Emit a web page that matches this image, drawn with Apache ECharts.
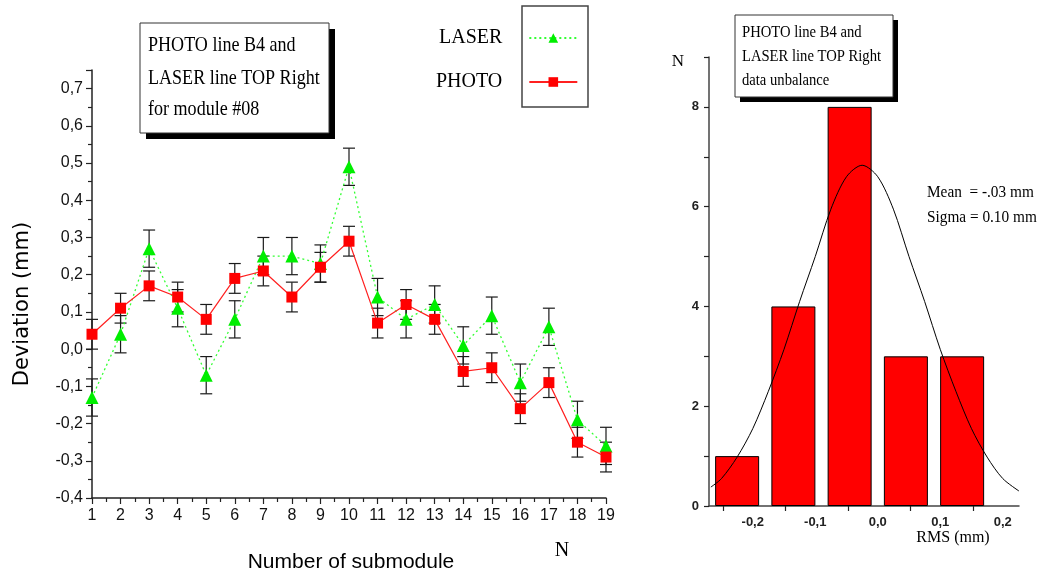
<!DOCTYPE html>
<html>
<head>
<meta charset="utf-8">
<script src="https://cdn.jsdelivr.net/npm/echarts@6/dist/echarts.min.js"></script>
<style>
html, body { margin: 0; padding: 0; background: #fff; }
#myChart { width: 1042px; height: 576px; }
</style>
</head>
<body>
<div id="myChart"></div>
<script>
// left plot: deviation per submodule
var submodules = [1, 2, 3, 4, 5, 6, 7, 8, 9, 10, 11, 12, 13, 14, 15, 16, 17, 18, 19];
var laser = [-0.13, 0.04, 0.27, 0.11, -0.07, 0.08, 0.25, 0.25, 0.23, 0.49, 0.14, 0.08, 0.12, 0.01, 0.09, -0.09, 0.06, -0.19, -0.26];
var laserErr = [0.05, 0.05, 0.05, 0.05, 0.05, 0.05, 0.05, 0.05, 0.05, 0.05, 0.05, 0.05, 0.05, 0.05, 0.05, 0.05, 0.05, 0.05, 0.05];
var photo = [0.04, 0.11, 0.17, 0.14, 0.08, 0.19, 0.21, 0.14, 0.22, 0.29, 0.07, 0.12, 0.08, -0.06, -0.05, -0.16, -0.09, -0.25, -0.29];
var photoErr = [0.04, 0.04, 0.04, 0.04, 0.04, 0.04, 0.04, 0.04, 0.04, 0.04, 0.04, 0.04, 0.04, 0.04, 0.04, 0.04, 0.04, 0.04, 0.04];

// right plot: histogram of the unbalance + fitted gauss (curve)
var binCenters = [-0.225, -0.135, -0.045, 0.045, 0.135];
var binCounts = [1, 4, 8, 3, 3];
var fitX = [-0.267, -0.25, -0.225, -0.2, -0.175, -0.15, -0.125, -0.1, -0.075, -0.05, -0.025, 0.0, 0.025, 0.05, 0.075, 0.1, 0.125, 0.15, 0.175, 0.2, 0.226];
var fitY = [0.38, 0.55, 0.98, 1.55, 2.3, 3.14, 4.1, 5.0, 5.95, 6.6, 6.83, 6.6, 5.95, 5.0, 4.1, 3.14, 2.3, 1.55, 0.98, 0.55, 0.3];
var rmsTicks = [-0.2, -0.1, 0.0, 0.1, 0.2];

function comma(v) {
    return v.toFixed(1).replace('.', ',');
}

function errData(vals, errs) {
    var out = [];
    for (var i = 0; i < vals.length; i++) {
        out.push([submodules[i], vals[i] - errs[i], vals[i] + errs[i]]);
    }
    return out;
}

function renderErr(params, api) {
    var lo = api.coord([api.value(0), api.value(1)]);
    var hi = api.coord([api.value(0), api.value(2)]);
    var style = { stroke: '#1a1a1a', lineWidth: 1.2 };
    return {
        type: 'group',
        children: [
            { type: 'line', shape: { x1: lo[0], y1: lo[1], x2: hi[0], y2: hi[1] }, style: style },
            { type: 'line', shape: { x1: lo[0] - 6, y1: lo[1], x2: lo[0] + 6, y2: lo[1] }, style: style },
            { type: 'line', shape: { x1: hi[0] - 6, y1: hi[1], x2: hi[0] + 6, y2: hi[1] }, style: style }
        ]
    };
}

var lineData = function (vals) {
    return vals.map(function (v, i) { return [submodules[i], v]; });
};

var binData = binCenters.map(function (c, i) { return [c, binCounts[i]]; });
var fitData = fitX.map(function (x, i) { return [x, fitY[i]]; });
// the original plot draws its x ticks ~0.048 left of their labels
var rmsTickMarks = rmsTicks.map(function (v) { return v - 0.048; });

var serif = 'Liberation Serif, Times New Roman, serif';
var sans = 'Liberation Sans, Arial, sans-serif';

// serif text in the original is narrow, squeeze it a bit
function note(x, y, text, size, sx) {
    return {
        type: 'text', x: x, y: y, scaleX: sx,
        style: { x: 0, y: 0, text: text, font: size + 'px ' + serif, fill: '#000', verticalAlign: 'middle' }
    };
}

var myChart = echarts.init(document.getElementById("myChart"));
var option = {
    animation: false,
    backgroundColor: '#fff',
    grid: [
        { left: 92, right: 436, top: 70, bottom: 78 },
        { left: 709, right: 23, top: 57, bottom: 70 }
    ],
    legend: {
        left: 431,
        top: 23,
        orient: 'vertical',
        align: 'right',
        itemWidth: 48,
        itemHeight: 12,
        itemGap: 24,
        textStyle: { fontFamily: serif, fontSize: 20, color: '#000', padding: [0, 22, 0, 0] },
        data: ['LASER', 'PHOTO']
    },
    xAxis: [
        {
            gridIndex: 0,
            type: 'value',
            min: 1,
            max: 19,
            interval: 1,
            splitLine: { show: false },
            axisLine: { onZero: false, lineStyle: { color: '#222', width: 1.5 } },
            axisTick: { length: 6, lineStyle: { color: '#222', width: 1.2 } },
            minorTick: { show: true, splitNumber: 2, length: 4, lineStyle: { color: '#222', width: 1.2 } },
            axisLabel: { fontFamily: sans, fontSize: 16, color: '#111', margin: 10 }
        },
        {
            gridIndex: 1,
            type: 'value',
            min: -0.27,
            max: 0.226,
            splitLine: { show: false },
            axisLine: { onZero: false, lineStyle: { color: '#444', width: 1.5 } },
            axisTick: { customValues: rmsTickMarks, length: 5, lineStyle: { color: '#222', width: 1.2 } },
            axisLabel: {
                customValues: rmsTicks,
                formatter: comma,
                fontFamily: sans, fontSize: 13, fontWeight: 'bold', color: '#222', margin: 10
            }
        }
    ],
    yAxis: [
        {
            gridIndex: 0,
            type: 'value',
            min: -0.4,
            max: 0.75,
            interval: 0.1,
            splitLine: { show: false },
            axisLine: { show: true, onZero: false, lineStyle: { color: '#222', width: 1.5 } },
            axisTick: { show: true, length: 6, lineStyle: { color: '#222', width: 1.2 } },
            minorTick: { show: true, splitNumber: 2, length: 4, lineStyle: { color: '#222', width: 1.2 } },
            axisLabel: { showMaxLabel: false, formatter: comma, fontFamily: sans, fontSize: 16, color: '#111', margin: 9 }
        },
        {
            gridIndex: 1,
            type: 'value',
            min: 0,
            max: 9,
            interval: 2,
            splitLine: { show: false },
            axisLine: { show: true, onZero: false, lineStyle: { color: '#444', width: 1.5 } },
            axisTick: { show: true, length: 5, lineStyle: { color: '#222', width: 1.2 } },
            minorTick: { show: true, splitNumber: 2, length: 5, lineStyle: { color: '#222', width: 1.2 } },
            axisLabel: { showMaxLabel: false, fontFamily: sans, fontSize: 13, fontWeight: 'bold', color: '#222', margin: 10 }
        }
    ],
    series: [
        {
            name: 'LASER err',
            type: 'custom',
            xAxisIndex: 0,
            yAxisIndex: 0,
            renderItem: renderErr,
            data: errData(laser, laserErr),
            z: 3
        },
        {
            name: 'PHOTO err',
            type: 'custom',
            xAxisIndex: 0,
            yAxisIndex: 0,
            renderItem: renderErr,
            data: errData(photo, photoErr),
            z: 3
        },
        {
            name: 'LASER',
            type: 'line',
            xAxisIndex: 0,
            yAxisIndex: 0,
            data: lineData(laser),
            symbol: 'triangle',
            symbolSize: 13,
            itemStyle: { color: '#00ee00' },
            lineStyle: { color: '#33ff33', width: 1.3, type: [2, 3] },
            z: 4
        },
        {
            name: 'PHOTO',
            type: 'line',
            xAxisIndex: 0,
            yAxisIndex: 0,
            data: lineData(photo),
            symbol: 'rect',
            symbolSize: 11,
            itemStyle: { color: '#ff0000' },
            lineStyle: { color: '#ff2020', width: 1.2 },
            z: 5
        },
        {
            name: 'bins',
            type: 'bar',
            xAxisIndex: 1,
            yAxisIndex: 1,
            data: binData,
            barWidth: 44,
            itemStyle: { color: '#ff0000', borderColor: '#000', borderWidth: 1 }
        },
        {
            name: 'fit',
            type: 'line',
            xAxisIndex: 1,
            yAxisIndex: 1,
            data: fitData,
            smooth: 0.3,
            showSymbol: false,
            lineStyle: { color: '#000', width: 1 },
            z: 5
        }
    ],
    graphic: [
        // legend frame
        { type: 'rect', shape: { x: 522, y: 6, width: 66, height: 101 }, style: { fill: 'none', stroke: '#444', lineWidth: 1.5 } },
        // left annotation box
        { type: 'rect', shape: { x: 146, y: 29, width: 189, height: 110 }, style: { fill: '#000' } },
        { type: 'rect', shape: { x: 140, y: 23, width: 189, height: 110 }, style: { fill: '#fff', stroke: '#333', lineWidth: 1 } },
        note(148, 45, 'PHOTO line B4 and', 21, 0.86),
        note(148, 78, 'LASER line TOP Right', 21, 0.86),
        note(148, 109, 'for module #08', 21, 0.86),
        // right annotation box
        { type: 'rect', shape: { x: 740, y: 20, width: 158, height: 82 }, style: { fill: '#000' } },
        { type: 'rect', shape: { x: 735, y: 15, width: 158, height: 82 }, style: { fill: '#fff', stroke: '#333', lineWidth: 1 } },
        note(742, 33, 'PHOTO line B4 and', 17, 0.86),
        note(742, 57, 'LASER line TOP Right', 17, 0.86),
        note(742, 81, 'data unbalance', 17, 0.86),
        // axis titles
        { type: 'text', x: 23, y: 304, rotation: Math.PI / 2, style: { x: 0, y: 0, text: 'Deviation (mm)', font: '21px DejaVu Sans, sans-serif', fill: '#000', align: 'center', verticalAlign: 'middle' } },
        { type: 'text', style: { x: 351, y: 562, text: 'Number of submodule', font: '21px ' + sans, fill: '#000', align: 'center', verticalAlign: 'middle' } },
        { type: 'text', style: { x: 562, y: 551, text: 'N', font: '20px ' + serif, fill: '#000', align: 'center', verticalAlign: 'middle' } },
        { type: 'text', style: { x: 678, y: 62, text: 'N', font: '17px ' + serif, fill: '#000', align: 'center', verticalAlign: 'middle' } },
        { type: 'text', style: { x: 953, y: 538, text: 'RMS (mm)', font: '16px ' + serif, fill: '#000', align: 'center', verticalAlign: 'middle' } },
        note(927, 193, 'Mean  = -.03 mm', 17, 0.9),
        note(927, 218, 'Sigma = 0.10 mm', 17, 0.9)
    ]
};
myChart.setOption(option);
</script>
</body>
</html>
